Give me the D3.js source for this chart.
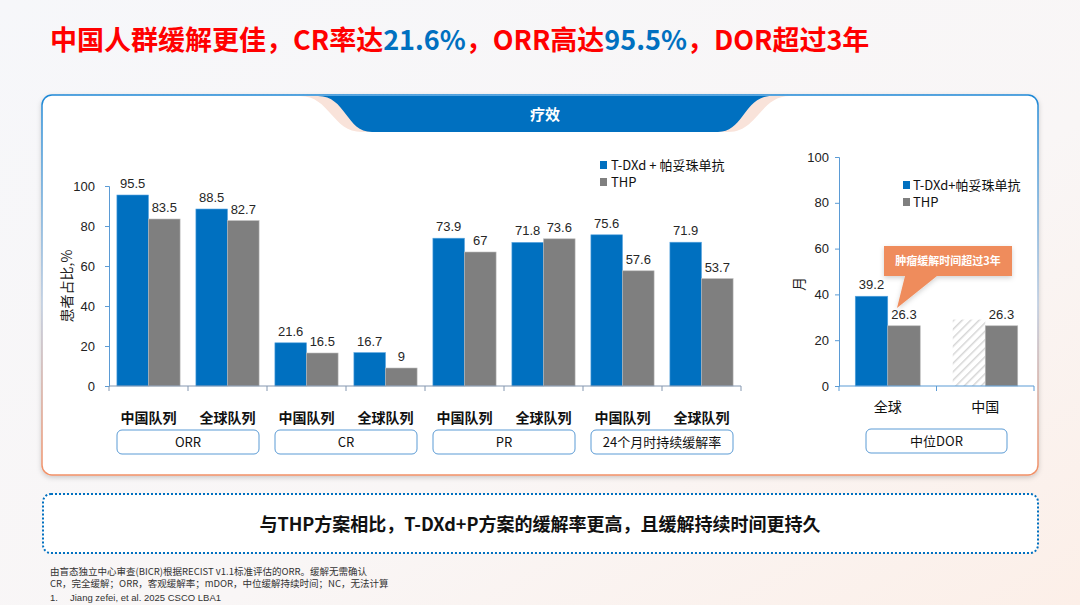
<!DOCTYPE html>
<html>
<head>
<meta charset="utf-8">
<script src="https://cdn.jsdelivr.net/npm/d3@7/dist/d3.min.js"></script>
<style>
  html, body { margin: 0; padding: 0; }
  body { width: 1080px; height: 605px; overflow: hidden; }
  svg text { font-family: "Liberation Sans", Arial, "Noto Sans CJK SC", sans-serif; }
  .cjk { font-family: "Noto Sans CJK SC", "Liberation Sans", sans-serif; }
</style>
</head>
<body>
<svg width="1080" height="605"></svg>
<script>
// ---- data ----
var cohorts = ["中国队列", "全球队列", "中国队列", "全球队列", "中国队列", "全球队列", "中国队列", "全球队列"];
var endpoints = ["ORR", "CR", "PR", "24个月时持续缓解率"];
var tdxdValues = [95.5, 88.5, 21.6, 16.7, 73.9, 71.8, 75.6, 71.9];
var thpValues = [83.5, 82.7, 16.5, 9, 67, 73.6, 57.6, 53.7];
var yTicks = [0, 20, 40, 60, 80, 100];

var dorRegions = ["全球", "中国"];
var dorTdxd = [39.2, null];        // China T-DXd: NC, drawn as hatched ghost bar
var dorThp = [26.3, 26.3];
var dorGhost = [null, 29];
var seriesNames = ["T-DXd + 帕妥珠单抗", "THP"];
var seriesNamesDor = ["T-DXd+帕妥珠单抗", "THP"];

var blue = "#0070C0", gray = "#7F7F7F", axisBlue = "#5B9BD5";

var svg = d3.select("svg");
var defs = svg.append("defs");

var bg = defs.append("linearGradient").attr("id", "bg").attr("x1", 0).attr("y1", 0).attr("x2", 1).attr("y2", 1);
bg.append("stop").attr("offset", "0%").attr("stop-color", "#F6F7FA");
bg.append("stop").attr("offset", "60%").attr("stop-color", "#F9F6F6");
bg.append("stop").attr("offset", "100%").attr("stop-color", "#FCEFE8");

var edge = defs.append("linearGradient").attr("id", "edge").attr("x1", 0).attr("y1", 0).attr("x2", 0).attr("y2", 1);
edge.append("stop").attr("offset", "0%").attr("stop-color", "#1E88D6");
edge.append("stop").attr("offset", "55%").attr("stop-color", "#B9C9DE");
edge.append("stop").attr("offset", "100%").attr("stop-color", "#F29066");

var sh = defs.append("filter").attr("id", "shadow").attr("x", "-5%").attr("y", "-5%").attr("width", "110%").attr("height", "115%");
sh.append("feDropShadow").attr("dx", 0).attr("dy", 2).attr("stdDeviation", 2.5).attr("flood-color", "#000").attr("flood-opacity", 0.18);

var hatch = defs.append("pattern").attr("id", "hatch").attr("patternUnits", "userSpaceOnUse")
    .attr("width", 6).attr("height", 6).attr("patternTransform", "rotate(45)");
hatch.append("rect").attr("width", 6).attr("height", 6).attr("fill", "#fff");
hatch.append("line").attr("x1", 0).attr("y1", 0).attr("x2", 0).attr("y2", 6)
    .attr("stroke", "#D6D6D6").attr("stroke-width", 3);

// background
svg.append("rect").attr("width", 1080).attr("height", 605).attr("fill", "url(#bg)");

// title
var title = svg.append("text").attr("class", "cjk").attr("x", 50).attr("y", 50)
    .style("font-size", "27px").style("font-weight", "bold").attr("fill", "#FF0000");
[["中国人群缓解更佳，CR率达", "#FF0000"], ["21.6%", blue], ["，ORR高达", "#FF0000"],
 ["95.5%", blue], ["，DOR超过3年", "#FF0000"]].forEach(function (p) {
  title.append("tspan").attr("fill", p[1]).text(p[0]);
});

// main panel
svg.append("rect").attr("x", 42).attr("y", 95).attr("width", 996).attr("height", 380).attr("rx", 10)
    .attr("fill", "#fff").attr("stroke", "url(#edge)").attr("stroke-width", 1.5).attr("filter", "url(#shadow)");

// header tab
svg.append("path")
    .attr("d", "M300,96 C330,96 332,132 362,132 L728,132 C758,132 760,96 790,96 Z")
    .attr("fill", "#F9E3DA");
svg.append("path")
    .attr("d", "M318,96 C346,96 346,132 372,132 L718,132 C744,132 744,96 772,96 Z")
    .attr("fill", blue);
svg.append("text").attr("class", "cjk").attr("x", 545).attr("y", 120).attr("text-anchor", "middle")
    .style("font-size", "15px").style("font-weight", "bold").attr("fill", "#fff").text("疗效");

// ---------- left chart ----------
var y = d3.scaleLinear().domain([0, 100]).range([386, 186]);
var x = d3.scaleBand().domain(d3.range(cohorts.length)).range([109, 741]).paddingInner(0).paddingOuter(0);
var x1 = d3.scaleBand().domain([0, 1]).range([0, x.bandwidth()]).paddingInner(0).paddingOuter(0.25);

var left = svg.append("g");
var yAxisL = left.append("g").attr("transform", "translate(109,0)")
    .call(d3.axisLeft(y).tickValues(yTicks).tickSize(4).tickPadding(10));
yAxisL.select(".domain").attr("stroke", axisBlue);
yAxisL.selectAll(".tick line").attr("stroke", axisBlue);
yAxisL.selectAll(".tick text").style("font-size", "13px").attr("fill", "#222")
    .style("font-family", "'Liberation Sans', Arial, sans-serif");

left.append("text").attr("class", "cjk").attr("transform", "translate(72,286) rotate(-90)")
    .attr("text-anchor", "middle").style("font-size", "14px").attr("fill", "#222").text("患者占比,%");

var groupsL = left.selectAll("g.cat").data(cohorts).enter().append("g")
    .attr("transform", function (d, i) { return "translate(" + x(i) + ",0)"; });

groupsL.each(function (d, i) {
  var g = d3.select(this);
  [tdxdValues[i], thpValues[i]].forEach(function (v, k) {
    g.append("rect").attr("x", x1(k)).attr("y", y(v)).attr("width", x1.bandwidth())
        .attr("height", y(0) - y(v)).attr("fill", k === 0 ? blue : gray)
        .attr("stroke", k === 0 ? "#5AA6E0" : "#BDBDBD").attr("stroke-width", 0.6);
    g.append("text").attr("x", x1(k) + x1.bandwidth() / 2).attr("y", y(v) - 7)
        .attr("text-anchor", "middle").style("font-size", "13px").attr("fill", "#262626").text(v);
  });
  g.append("text").attr("class", "cjk").attr("x", x.bandwidth() / 2).attr("y", 423)
      .attr("text-anchor", "middle").style("font-size", "14px").style("font-weight", "bold")
      .attr("fill", "#111").text(d);
});

// x axis line and boundary ticks
left.append("line").attr("x1", 109).attr("x2", 741).attr("y1", y(0)).attr("y2", y(0))
    .attr("stroke", "#8497B0").attr("stroke-width", 1);
left.selectAll("line.bt").data(d3.range(cohorts.length + 1)).enter().append("line")
    .attr("x1", function (i) { return i < cohorts.length ? x(i) : x(i - 1) + x.bandwidth(); })
    .attr("x2", function (i) { return i < cohorts.length ? x(i) : x(i - 1) + x.bandwidth(); })
    .attr("y1", y(0)).attr("y2", y(0) + 5).attr("stroke", "#8497B0");

// endpoint boxes
endpoints.forEach(function (e, j) {
  var x0 = x(2 * j) + 8, x2 = x(2 * j + 1) + x.bandwidth() - 8;
  left.append("rect").attr("x", x0).attr("y", 430).attr("width", x2 - x0).attr("height", 24).attr("rx", 5)
      .attr("fill", "#fff").attr("stroke", axisBlue).attr("stroke-width", 1);
  left.append("text").attr("class", "cjk").attr("x", (x0 + x2) / 2).attr("y", 447)
      .attr("text-anchor", "middle").style("font-size", "13px").attr("fill", "#111").text(e);
});

// left legend
seriesNames.forEach(function (s, k) {
  left.append("rect").attr("x", 600).attr("y", 161 + k * 17).attr("width", 7).attr("height", 8)
      .attr("fill", k === 0 ? blue : gray);
  left.append("text").attr("class", "cjk").attr("x", 611).attr("y", 170 + k * 17)
      .style("font-size", "13px").attr("fill", "#111").text(s);
});

// ---------- right chart (median DOR) ----------
var yr = d3.scaleLinear().domain([0, 100]).range([386, 157]);
var xr = d3.scaleBand().domain(dorRegions).range([839, 1034]);
var xr1 = d3.scaleBand().domain([0, 1]).range([0, xr.bandwidth()]).paddingOuter(0.5);

var right = svg.append("g");
var yAxisR = right.append("g").attr("transform", "translate(839,0)")
    .call(d3.axisLeft(yr).tickValues(yTicks).tickSize(4).tickPadding(6));
yAxisR.select(".domain").attr("stroke", axisBlue);
yAxisR.selectAll(".tick line").attr("stroke", axisBlue);
yAxisR.selectAll(".tick text").style("font-size", "13px").attr("fill", "#222")
    .style("font-family", "'Liberation Sans', Arial, sans-serif");

right.append("text").attr("class", "cjk").attr("transform", "translate(804,284) rotate(-90)")
    .attr("text-anchor", "middle").style("font-size", "14px").attr("fill", "#222").text("月");

dorRegions.forEach(function (r, i) {
  var bx = xr(r);
  if (dorGhost[i] != null) {
    right.append("rect").attr("x", bx + xr1(0)).attr("y", yr(dorGhost[i])).attr("width", xr1.bandwidth())
        .attr("height", yr(0) - yr(dorGhost[i])).attr("fill", "url(#hatch)");
  }
  [dorTdxd[i], dorThp[i]].forEach(function (v, k) {
    if (v == null) return;
    right.append("rect").attr("x", bx + xr1(k)).attr("y", yr(v)).attr("width", xr1.bandwidth())
        .attr("height", yr(0) - yr(v)).attr("fill", k === 0 ? blue : gray)
        .attr("stroke", k === 0 ? "#5AA6E0" : "#BDBDBD").attr("stroke-width", 0.6);
    right.append("text").attr("x", bx + xr1(k) + xr1.bandwidth() / 2).attr("y", yr(v) - 7)
        .attr("text-anchor", "middle").style("font-size", "13px").attr("fill", "#262626").text(v);
  });
  right.append("text").attr("class", "cjk").attr("x", bx + xr.bandwidth() / 2).attr("y", 412)
      .attr("text-anchor", "middle").style("font-size", "14px").attr("fill", "#111").text(r);
});

right.append("line").attr("x1", 839).attr("x2", 1034).attr("y1", yr(0)).attr("y2", yr(0))
    .attr("stroke", axisBlue);
right.selectAll("line.bt").data([0, 1, 2]).enter().append("line")
    .attr("x1", function (i) { return 839 + i * xr.step(); })
    .attr("x2", function (i) { return 839 + i * xr.step(); })
    .attr("y1", yr(0)).attr("y2", yr(0) + 5).attr("stroke", axisBlue);

right.append("rect").attr("x", 866).attr("y", 429).attr("width", 141).attr("height", 24).attr("rx", 5)
    .attr("fill", "#fff").attr("stroke", axisBlue);
right.append("text").attr("class", "cjk").attr("x", 936.5).attr("y", 446).attr("text-anchor", "middle")
    .style("font-size", "13px").attr("fill", "#111").text("中位DOR");

seriesNamesDor.forEach(function (s, k) {
  right.append("rect").attr("x", 903).attr("y", 181 + k * 17).attr("width", 7).attr("height", 8)
      .attr("fill", k === 0 ? blue : gray);
  right.append("text").attr("class", "cjk").attr("x", 913).attr("y", 190 + k * 17)
      .style("font-size", "13px").attr("fill", "#111").text(s);
});

// callout
var callout = right.append("g").attr("filter", "url(#shadow)");
callout.append("path")
    .attr("d", "M884,246 L1012,246 L1012,276 L937,276 L897,308 L905,276 L884,276 Z")
    .attr("fill", "#EF8C5C");
right.append("text").attr("class", "cjk").attr("x", 948).attr("y", 265).attr("text-anchor", "middle")
    .style("font-size", "11px").style("font-weight", "bold").attr("fill", "#fff").text("肿瘤缓解时间超过3年");

// ---------- conclusion box ----------
svg.append("rect").attr("x", 43).attr("y", 494).attr("width", 995).attr("height", 59).attr("rx", 8)
    .attr("fill", "#fff").attr("stroke", blue).attr("stroke-width", 2).attr("stroke-dasharray", "2,2");
svg.append("text").attr("class", "cjk").attr("x", 540).attr("y", 531).attr("text-anchor", "middle")
    .style("font-size", "18px").style("font-weight", "bold").attr("fill", "#111")
    .text("与THP方案相比，T-DXd+P方案的缓解率更高，且缓解持续时间更持久");

// footnotes
var notes = ["由盲态独立中心审查(BICR)根据RECIST v1.1标准评估的ORR。缓解无需确认",
             "CR，完全缓解；ORR，客观缓解率；mDOR，中位缓解持续时间；NC，无法计算"];
notes.forEach(function (n, i) {
  svg.append("text").attr("class", "cjk").attr("x", 50).attr("y", 575 + i * 12)
      .style("font-size", "9.5px").attr("fill", "#333").text(n);
});
svg.append("text").attr("x", 50).attr("y", 601).style("font-size", "9.5px").attr("fill", "#333").text("1.");
svg.append("text").attr("x", 70).attr("y", 601).style("font-size", "9.5px").attr("fill", "#333")
    .text("Jiang zefei, et al. 2025 CSCO  LBA1");
</script>
</body>
</html>
